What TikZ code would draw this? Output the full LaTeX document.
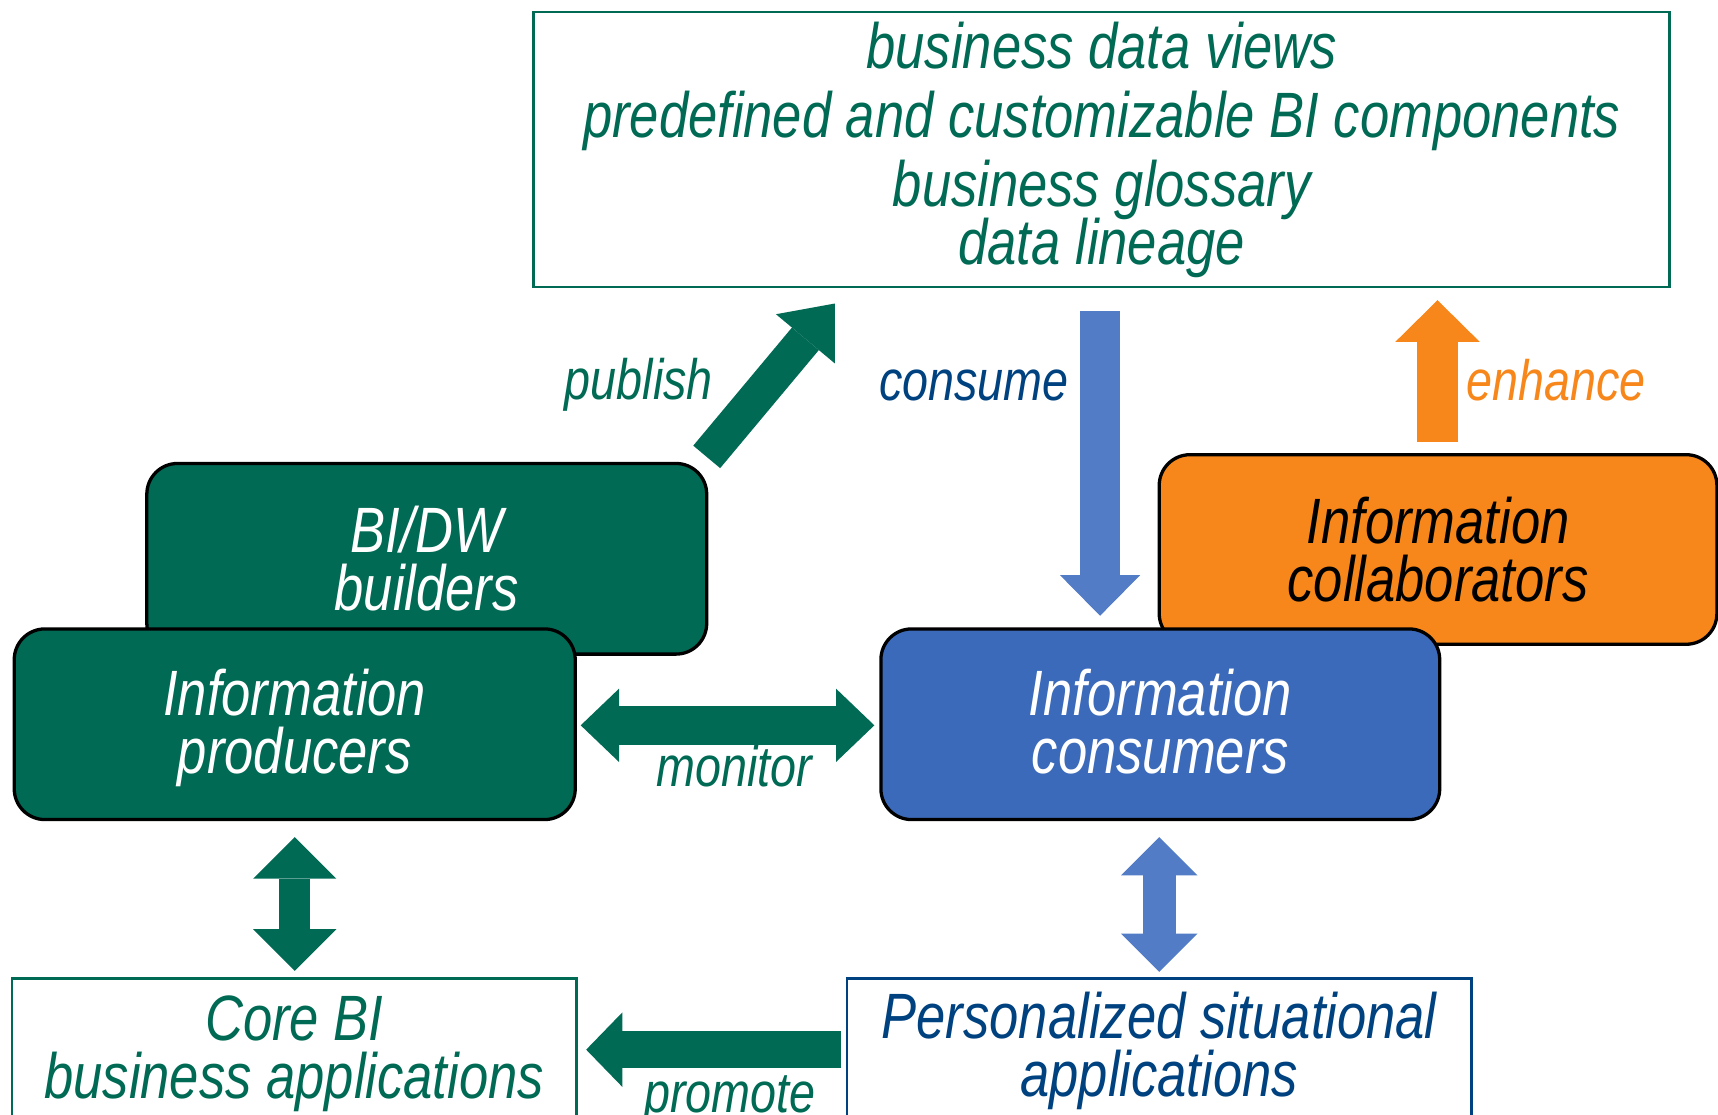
\documentclass[tikz,border=0pt]{standalone}
\usepackage{fontspec}
\newfontfamily\af{Liberation Sans}[FakeStretch=0.82]
\usetikzlibrary{arrows.meta}
\definecolor{dgreen}{HTML}{006A54}
\definecolor{cblue}{HTML}{3C6ABA}
\definecolor{lblue}{HTML}{527CC6}
\definecolor{orng}{HTML}{F7871A}
\definecolor{nblue}{HTML}{00427F}
\newcommand\mytightlines{\lineskiplimit=-100pt\relax}
\begin{document}
\begin{tikzpicture}[x=0.5pt,y=-0.5pt,
  role/.style={rounded corners=14pt, draw=black, line width=1.5pt, text=white,
    align=center, inner sep=0pt,
    font=\af\itshape\fontsize{29.25pt}{26.5pt}\selectfont},
  plainbox/.style={line width=1.2pt, align=center, inner sep=0pt,
    font=\af\itshape\fontsize{29.25pt}{26.5pt}\selectfont},
  lbl/.style={inner sep=0pt, font=\af\itshape\fontsize{26pt}{26pt}\selectfont},
  blockarrow/.style={line cap=butt}
]
\useasboundingbox (0,0) rectangle (1568,1017);
\clip (0,0) rectangle (1568,1017);

% boxes
\node[role, fill=dgreen, minimum width=255.5pt, minimum height=87pt] (bidw) at (389.5,510) {BI/DW\\builders};
\node[role, fill=dgreen, minimum width=256pt, minimum height=87pt, text depth=3pt] (prod) at (269,661) {Information\\producers};
\node[role, fill=orng, text=black, minimum width=254.5pt, minimum height=86.5pt] (coll) at (1312.5,501.5) {Information\\collaborators};
\node[role, fill=cblue, minimum width=255pt, minimum height=87pt, text depth=3pt] (cons) at (1059,661) {Information\\consumers};

\node[plainbox, draw=dgreen, text=dgreen, minimum width=518.5pt, minimum height=125.5pt,
  font=\af\itshape\fontsize{29.25pt}{25.5pt}\selectfont\mytightlines] (views) at (1005.5,136.5)
  {business data views\\[6pt]predefined and customizable BI components\\[6pt]business glossary\\[1pt]data lineage};

\node[plainbox, draw=dgreen, text=dgreen, minimum width=257.5pt, minimum height=68.5pt] (core) at (268.5,961.5) {Core BI\\business applications};
\node[plainbox, draw=nblue, text=nblue, minimum width=285pt, minimum height=68.5pt, text depth=8pt] (pers) at (1058,961.5) {Personalized situational\\applications};

% arrow end points
\coordinate (pubA) at (645,417);
\coordinate (pubB) at (762,277);
\coordinate (conA) at (1004,284);
\coordinate (conB) at (1004,562);
\coordinate (enhA) at (1312,403);
\coordinate (enhB) at (1312,274);
\coordinate (monA) at (530,662);
\coordinate (monB) at (798,662);
\coordinate (lvA) at (269,764);
\coordinate (lvB) at (269,886);
\coordinate (rvA) at (1058,764);
\coordinate (rvB) at (1058,887);
\coordinate (proA) at (768,958);
\coordinate (proB) at (535,958);

% arrows
\draw[blockarrow, dgreen, line width=16pt, -{Triangle[length=21pt,width=35pt,line width=0pt]}] (pubA) -- (pubB);
\draw[blockarrow, lblue, line width=18pt, -{Triangle[length=18.5pt,width=36.5pt,line width=0pt]}] (conA) -- (conB);
\draw[blockarrow, orng, line width=19pt, -{Triangle[length=19pt,width=38.5pt,line width=0pt]}] (enhA) -- (enhB);
\draw[blockarrow, dgreen, line width=17.5pt, {Triangle[length=17.5pt,width=33.5pt,line width=0pt]}-{Triangle[length=17.5pt,width=33.5pt,line width=0pt]}] (monA) -- (monB);
\draw[blockarrow, dgreen, line width=14pt, {Triangle[length=19pt,width=38pt,line width=0pt]}-{Triangle[length=19pt,width=38pt,line width=0pt]}] (lvA) -- (lvB);
\draw[blockarrow, lblue, line width=15pt, {Triangle[length=17.5pt,width=35pt,line width=0pt]}-{Triangle[length=17.5pt,width=35pt,line width=0pt]}] (rvA) -- (rvB);
\draw[blockarrow, dgreen, line width=17pt, -{Triangle[length=16.5pt,width=34pt,line width=0pt]}] (proA) -- (proB);

% labels
\node[lbl, text=dgreen] (publbl) at (583,351) {publish};
\node[lbl, text=nblue] (conlbl) at (889,352) {consume};
\node[lbl, text=orng] (enhlbl) at (1420,347) {enhance};
\node[lbl, text=dgreen] (monlbl) at (670,699) {monitor};
\node[lbl, text=dgreen] (prolbl) at (666,1004) {promote};
\end{tikzpicture}
\end{document}
